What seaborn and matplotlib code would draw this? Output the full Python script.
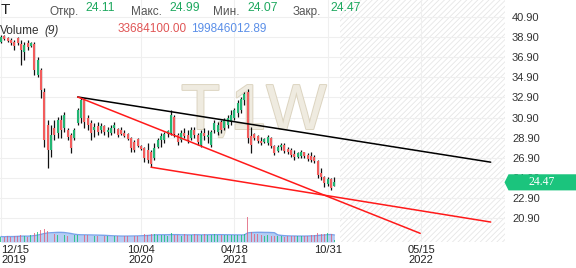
import numpy as np
import pandas as pd
import matplotlib
matplotlib.use("Agg")
import matplotlib.pyplot as plt
import matplotlib.dates as mdates
import matplotlib.patheffects as pe
from matplotlib.patches import Polygon
from matplotlib.transforms import blended_transform_factory
import seaborn as sns

# ---------------- data ----------------
dates = pd.date_range("2019-12-15", periods=101, freq="7D")

opens = [38.41, 39.01, 38.81, 38.61, 38.41, 38.81, 38.21, 37.42, 38.31, 38.01,
         38.21, 35.13, 35.63, 33.44, 30.15, 27.67, 29.85, 29.36, 30.65, 29.85,
         29.66, 29.16, 28.86, 30.35, 30.85, 32.64, 30.85, 30.35, 29.66, 30.05,
         29.66, 30.05, 29.46, 29.36, 29.85, 29.75, 29.66, 29.36, 29.26, 28.86,
         28.46, 28.76, 28.06, 27.86, 27.67, 27.47, 26.87, 27.96, 28.66, 28.66,
         29.26, 29.36, 30.95, 29.16, 28.66, 29.36, 29.16, 28.86, 29.66, 29.16,
         28.16, 29.36, 28.96, 28.16, 29.66, 29.46, 30.45, 29.85, 30.15, 30.45,
         30.85, 31.35, 31.65, 32.64, 33.44, 29.06, 29.26, 29.06, 28.56, 28.46,
         28.36, 28.86, 28.06, 27.57, 27.96, 28.16, 27.76, 27.67, 27.27, 26.97,
         27.07, 27.47, 27.17, 27.07, 26.97, 26.57, 25.38, 24.98, 24.28, 24.78,
         24.11]
highs = [39.11, 39.11, 38.91, 38.81, 38.61, 38.91, 38.61, 38.41, 38.61, 38.41,
         38.41, 36.92, 35.82, 33.83, 30.65, 30.15, 30.65, 30.95, 31.15, 31.45,
         29.85, 29.36, 29.85, 31.84, 32.94, 32.84, 31.15, 30.65, 30.35, 30.45,
         30.35, 30.15, 29.95, 30.15, 30.45, 29.85, 29.95, 29.66, 29.36, 28.96,
         28.66, 28.86, 28.16, 27.96, 28.36, 27.67, 28.36, 28.86, 29.36, 29.46,
         29.66, 31.65, 31.15, 29.36, 29.66, 29.85, 29.66, 29.95, 29.95, 29.36,
         29.66, 29.85, 29.66, 29.66, 30.65, 30.45, 30.65, 30.85, 31.15, 31.65,
         31.84, 32.64, 32.94, 33.44, 33.73, 29.95, 29.36, 29.16, 28.96, 28.86,
         29.16, 28.96, 28.16, 28.16, 28.36, 28.36, 27.96, 27.86, 27.67, 27.47,
         27.67, 27.47, 27.37, 27.47, 27.17, 26.67, 25.87, 25.08, 24.98, 24.88,
         24.99]
lows = [38.31, 38.61, 38.41, 38.11, 37.62, 38.11, 36.12, 36.62, 37.62, 37.91,
        35.13, 34.93, 32.84, 27.96, 25.87, 26.97, 28.66, 28.86, 28.86, 29.46,
        28.66, 27.37, 28.66, 30.15, 30.35, 29.85, 29.66, 28.66, 28.96, 29.16,
        29.36, 29.16, 28.96, 29.16, 29.36, 28.96, 29.16, 28.96, 28.66, 27.47,
        27.47, 27.96, 27.67, 26.47, 26.37, 25.97, 26.67, 27.86, 27.96, 28.36,
        28.96, 29.16, 28.96, 28.16, 28.46, 28.86, 28.36, 28.66, 28.86, 28.16,
        27.96, 28.66, 28.36, 27.96, 29.36, 29.16, 29.36, 29.66, 29.85, 30.15,
        30.65, 30.95, 31.35, 32.14, 28.36, 27.37, 28.66, 28.36, 28.16, 28.36,
        28.16, 27.86, 27.17, 27.47, 27.67, 27.37, 27.27, 26.97, 26.67, 26.87,
        26.87, 26.87, 26.57, 26.47, 26.37, 24.88, 24.68, 23.98, 24.08, 23.68,
        24.07]
closes = [38.91, 38.71, 38.51, 38.31, 38.01, 38.31, 37.62, 38.11, 37.91, 38.31,
          35.63, 36.62, 33.63, 28.66, 27.67, 29.16, 29.16, 30.65, 29.66, 31.15,
          28.96, 27.86, 29.66, 31.65, 32.64, 30.45, 30.15, 29.36, 29.95, 29.46,
          30.05, 29.46, 29.66, 29.85, 30.15, 29.16, 29.26, 29.06, 28.76, 27.86,
          27.67, 28.06, 27.76, 26.87, 26.67, 26.27, 27.86, 28.66, 29.06, 29.26,
          29.56, 31.15, 29.26, 28.46, 29.36, 29.06, 28.66, 29.66, 29.16, 28.46,
          29.36, 29.06, 29.16, 29.46, 30.35, 30.15, 29.66, 30.65, 30.85, 31.15,
          31.65, 32.34, 32.74, 33.24, 28.86, 28.16, 28.86, 28.56, 28.36, 28.76,
          28.96, 28.06, 27.37, 27.96, 28.16, 27.57, 27.47, 27.17, 26.97, 27.37,
          27.47, 27.07, 26.77, 26.67, 26.57, 25.18, 24.98, 24.38, 24.78, 23.88,
          24.47]
volumes_m = [120, 110, 130, 115, 125, 140, 160, 135, 120, 150,
             190, 230, 260, 290, 250, 210, 170, 160, 150, 155,
             140, 160, 150, 165, 175, 160, 150, 140, 135, 130,
             140, 130, 125, 135, 130, 125, 120, 130, 135, 150,
             140, 135, 160, 170, 150, 175, 180, 165, 150, 145,
             140, 190, 160, 150, 140, 180, 150, 145, 170, 150,
             160, 175, 150, 165, 170, 160, 150, 155, 145, 150,
             160, 150, 155, 175, 560, 220, 180, 170, 150, 140,
             150, 130, 135, 125, 130, 120, 130, 125, 140, 130,
             135, 130, 140, 150, 145, 200, 180, 175, 190, 170,
             33.68]

price_ticks = [40.90, 38.90, 36.90, 34.90, 32.90, 30.90, 28.90, 26.90, 24.90, 22.90, 20.90]
date_ticks = ["2019-12-15", "2020-10-04", "2021-04-18", "2021-10-31", "2022-05-15"]
date_labels = ["12/15\n2019", "10/04\n2020", "04/18\n2021", "10/31\n ", "05/15\n2022"]

trend_black_dates = ["2020-05-24", "2022-10-08"]
trend_black_prices = [32.94, 26.47]
trend_red1_dates = ["2020-05-24", "2022-05-13"]
trend_red1_prices = [32.94, 19.41]
trend_red2_dates = ["2020-10-25", "2022-10-08"]
trend_red2_prices = [25.97, 20.53]

header_labels = ["Откр.", "Макс.", "Мин.", "Закр."]
header_values = ["24.11", "24.99", "24.07", "24.47"]
vol_last_text = "33684100.00"
vol_ma_text = "199846012.89"
last_price_text = "24.47"

# ---------------- style ----------------
sns.set_theme(style="white")
plt.rcParams["font.family"] = ["Liberation Sans", "DejaVu Sans"]
plt.rcParams["hatch.linewidth"] = 0.6

GREEN = "#22b573"
RED = "#f25c5c"

fig = plt.figure(figsize=(5.76, 2.68), dpi=100)
fig.patch.set_facecolor("white")
ax = fig.add_axes([0, 26 / 268, 505 / 576, 242 / 268])
ax.set_facecolor("white")
ax2 = ax.twinx()

o = np.array(opens); h = np.array(highs); l = np.array(lows); c = np.array(closes)
x = mdates.date2num(dates)
up = c >= o
body_cols = np.where(up, GREEN, RED)

# limits
x_left = mdates.date2num(dates[0] - pd.Timedelta(days=2))
x_right = mdates.date2num(dates[0] + pd.Timedelta(days=1058))
ax.set_xlim(x_left, x_right)
ax.set_ylim(18.55, 42.56)
ax2.set_xlim(x_left, x_right)
ax2.set_ylim(0, 5330)

# grid
xt = mdates.date2num(pd.to_datetime(date_ticks))
ax.set_xticks(xt)
ax.set_xticklabels(date_labels)
ax.set_yticks(price_ticks)
ax.set_yticklabels([f"{v:.2f}" for v in price_ticks])
ax.grid(True, color="#efefef", lw=0.8, zorder=0)
for s in ax.spines.values():
    s.set_visible(False)
for s in ax2.spines.values():
    s.set_visible(False)
ax2.set_yticks([])
ax2.grid(False)
ax.yaxis.tick_right()
ax.tick_params(axis="y", length=0, pad=5, labelsize=8, labelcolor="#333333")
ax.tick_params(axis="x", length=0, pad=2.5, labelsize=8, labelcolor="#222222")
for lab in ax.get_xticklabels():
    lab.set_linespacing(1.0)
ax.get_xticklabels()[0].set_horizontalalignment("left")

# hatched future area
hatch_start = mdates.date2num(dates[-1] + pd.Timedelta(days=12))
ax.axvspan(hatch_start, x_right, facecolor="none", edgecolor="#e6e6e6",
           hatch="//////", lw=0, zorder=0.5)

# watermark
ax.text(181 / 576, 1 - 129 / 268, "T,1W", transform=fig.transFigure,
        fontsize=46, color="#efebe0", zorder=0.6,
        path_effects=[pe.withStroke(linewidth=1.4, foreground="#dcd4c0")])

# candles
ax.vlines(x, l, h, colors="#111111", lw=0.9, zorder=3)
ax.vlines(x, np.minimum(o, c), np.maximum(o, c), colors=body_cols, lw=1.5, zorder=4)

# trend lines
for d, p, col in [(trend_black_dates, trend_black_prices, "#000000"),
                  (trend_red1_dates, trend_red1_prices, "#ff1a1a"),
                  (trend_red2_dates, trend_red2_prices, "#ff1a1a")]:
    sns.lineplot(x=mdates.date2num(pd.to_datetime(d)), y=p, color=col, lw=1.1, ax=ax, zorder=5)
ax.set_xlim(x_left, x_right)
ax.set_ylim(18.55, 42.56)
ax.set_xlabel(""); ax.set_ylabel("")

# volume
vol = np.array(volumes_m)
ma = pd.Series(vol).rolling(9, min_periods=1).mean().values
ax2.fill_between(x, 0, ma, color="#b5cdf4", lw=0, zorder=1)
sns.lineplot(x=x, y=ma, color="#7aa3ea", lw=1.0, ax=ax2, zorder=2)
vol_cols = np.where(up, "#16c172", "#e0607a")
ax2.bar(x, vol, width=2.0, color=vol_cols, alpha=0.8, zorder=3, lw=0)
ax2.set_ylim(0, 5330)
ax2.set_xlim(x_left, x_right)
ax2.set_ylabel("")

# last price label
tr = blended_transform_factory(ax.transAxes, ax.transData)
last = closes[-1]
poly = Polygon([(0.999, last), (1.007, last + 0.8), (1.15, last + 0.8),
                (1.15, last - 0.8), (1.007, last - 0.8)], closed=True,
               transform=tr, facecolor="#1bc47d", edgecolor="none",
               clip_on=False, zorder=20)
ax2.add_patch(poly)
ax2.text(1.072, last, last_price_text, transform=tr, ha="center", va="center",
         fontsize=8.5, color="white", family="Liberation Serif", zorder=21, clip_on=False)

# header
def ftext(px, py, s, **kw):
    fig.text(px / 576, 1 - py / 268, s, va="baseline", **kw)

ftext(1, 14, "T", fontsize=11, color="#222222")
lab_x = [49, 131, 213, 293]
val_x = [85, 169, 247, 330]
for lx, vx, lt, vt in zip(lab_x, val_x, header_labels, header_values):
    ftext(lx, 15, lt, fontsize=8.5, color="#555555")
    ftext(vx, 11, vt, fontsize=8.7, color="#1ea85f")
ftext(0, 34, "Volume", fontsize=8.5, color="#333333")
ftext(44, 34, "(9)", fontsize=8.5, color="#333333", style="italic")
ftext(118, 32, vol_last_text, fontsize=8.5, color="#e05555")
ftext(191, 32, vol_ma_text, fontsize=8.5, color="#5b8fe8")

fig.savefig("out.png", dpi=100, facecolor="white")
